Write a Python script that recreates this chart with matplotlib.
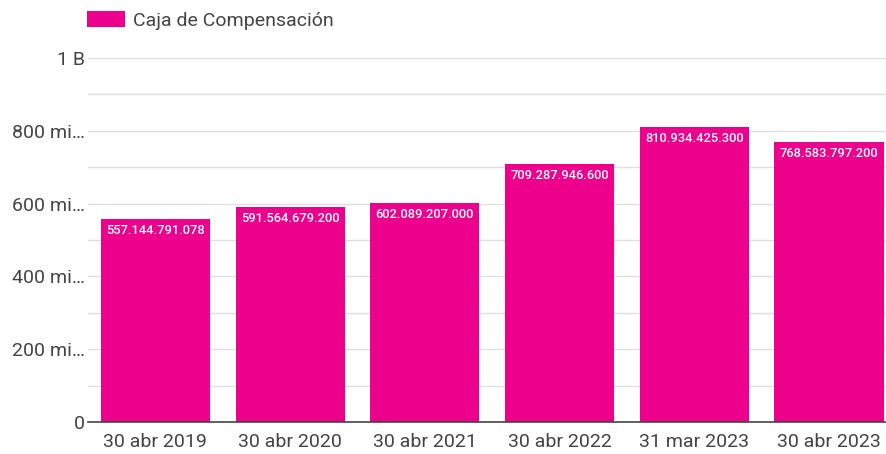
import matplotlib.pyplot as plt
from matplotlib.patches import Patch

# ---------------Data---------------
dates = ['30 abr 2019', '30 abr 2020', '30 abr 2021', '30 abr 2022', '31 mar 2023', '30 abr 2023']
values = [557144791078, 591564679200, 602089207000, 709287946600, 810934425300, 768583797200]
value_labels = ['557.144.791.078', '591.564.679.200', '602.089.207.000',
                '709.287.946.600', '810.934.425.300', '768.583.797.200']
y_ticks = [0, 200e9, 400e9, 600e9, 800e9, 1e12]
y_tick_labels = ['0', '200 mi…', '400 mi…', '600 mi…', '800 mi…', '1 B']
series_name = 'Caja de Compensación'
# ----------------------------------

PINK = '#ec008c'
plt.rcParams['font.family'] = ['Roboto', 'DejaVu Sans']

fig = plt.figure(figsize=(8.87, 4.54), dpi=100)
ax = fig.add_axes([88 / 887, (454 - 422) / 454, (887 - 88) / 887, 364 / 454])

x = list(range(len(values)))
ax.bar(x, values, width=0.81, color=PINK, zorder=3)

for xi, v, lab in zip(x, values, value_labels):
    ax.annotate(lab, (xi, v), xytext=(0, -5), textcoords='offset pixels',
                ha='center', va='top', color='white', fontsize=9.3,
                fontweight='medium', zorder=4)

ax.set_ylim(0, 1e12)
ax.set_xlim(-0.5, 5.43)
ax.set_yticks(y_ticks)
ax.set_yticklabels(y_tick_labels)
ax.set_yticks([100e9, 300e9, 500e9, 700e9, 900e9], minor=True)
ax.grid(axis='y', which='both', color='#e0e0e0', linewidth=1, zorder=0)
ax.set_xticks(x)
ax.set_xticklabels(dates)

ax.tick_params(axis='y', which='both', length=0, pad=2, labelsize=14, labelcolor='#444444')
ax.tick_params(axis='x', length=0, pad=8, labelsize=14, labelcolor='#444444')
for s in ['top', 'right', 'left']:
    ax.spines[s].set_visible(False)
ax.spines['bottom'].set_color('#444444')
ax.spines['bottom'].set_linewidth(1.2)
ax.spines['bottom'].set_zorder(5)

fig.legend(handles=[Patch(facecolor=PINK, edgecolor='none')], labels=[series_name],
           loc='upper left', bbox_to_anchor=(85 / 887, 1 - 9 / 454), frameon=False,
           fontsize=14, handlelength=1.96, handleheight=0.93, handletextpad=0.4,
           borderpad=0.1, borderaxespad=0, labelcolor='#444444')

fig.savefig('out.png', dpi=100)
